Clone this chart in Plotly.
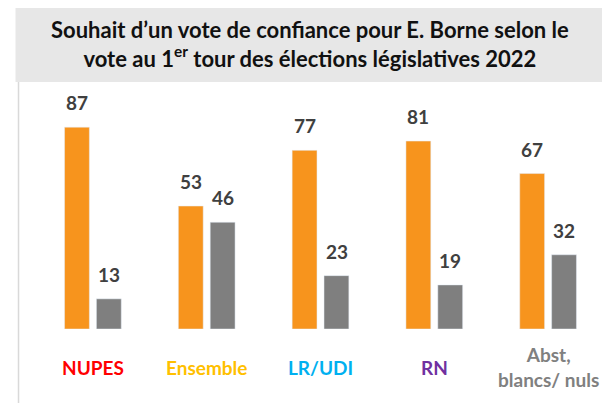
import plotly.graph_objects as go

categories = ["NUPES", "Ensemble", "LR/UDI", "RN", "Abst,<br>blancs/ nuls"]
cat_colors = ["#FF0000", "#FFC000", "#00B0F0", "#7030A0", "#808080"]
oui = [87, 53, 77, 81, 67]
non = [13, 46, 23, 19, 32]

W, H = 610, 403
OFF = 8  # page body margin offset
ml, mr, mt, mb = 27.5, 13, 89, 82
pw, ph = W - ml - mr, H - mt - mb

def px_x(p):
    return (p - OFF - ml) / pw

def px_y(p):
    return (H - mb - (p - OFF)) / ph

fig = go.Figure()
fig.add_trace(go.Bar(x=categories, y=oui, marker_color="#F7941D", name="Oui"))
fig.add_trace(go.Bar(x=categories, y=non, marker_color="#7F7F7F", name="Non"))

annotations = []
for i, c in enumerate(categories):
    for vals, sh in ((oui, -16), (non, 16)):
        annotations.append(dict(
            x=c, y=vals[i], xref="x", yref="y", text=str(vals[i]),
            showarrow=False, xshift=sh, yanchor="bottom", yshift=11,
            font=dict(family="Lato", size=19, color="#404040", weight="bold")))
    annotations.append(dict(
        x=c, y=px_y(367), xref="x", yref="paper", text=c,
        showarrow=False, yanchor="middle",
        font=dict(family="Lato", size=19, color=cat_colors[i], weight="bold")))

annotations.append(dict(
    x=px_x(310), y=px_y(44), xref="paper", yref="paper",
    text="Souhait d’un vote de confiance pour E. Borne selon le<br>vote au 1<sup>er</sup> tour des élections législatives 2022",
    showarrow=False, xanchor="center", yanchor="middle",
    font=dict(family="Lato", size=22, color="#111111", weight="bold")))

shapes = [
    dict(type="rect", xref="paper", yref="paper", x0=px_x(15), x1=px_x(620),
         y0=px_y(82), y1=px_y(0), fillcolor="#E7E7E7", line=dict(width=0), layer="below"),
    dict(type="line", xref="paper", yref="paper", x0=px_x(18), x1=px_x(18),
         y0=px_y(82), y1=px_y(420), line=dict(color="#D9D9D9", width=1.5)),
]

fig.update_layout(
    width=W, height=H,
    margin=dict(l=ml, r=mr, t=mt, b=mb),
    paper_bgcolor="white", plot_bgcolor="white",
    barmode="group", bargap=0.44, bargroupgap=0.22,
    showlegend=False,
    xaxis=dict(showticklabels=False, showline=False, ticks="", showgrid=False),
    yaxis=dict(range=[0, 100], visible=False),
    annotations=annotations, shapes=shapes,
)

fig.write_html("out.html")
